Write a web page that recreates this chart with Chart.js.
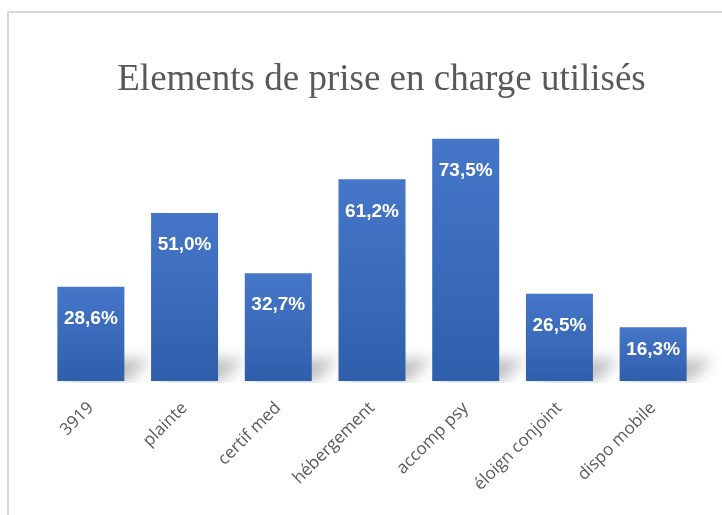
<!DOCTYPE html>
<html>
<head>
<meta charset="utf-8">
<script src="https://cdn.jsdelivr.net/npm/chart.js@4"></script>
<style>
  html, body { margin: 0; padding: 0; background: #fff; overflow: hidden; }
  body { width: 722px; height: 515px; position: relative; }
  #frame {
    position: absolute; left: 7px; top: 11px;
    width: 745px; height: 520px;
    border: 2px solid #d9d9d9;
  }
  #frame canvas { display: block; }
</style>
</head>
<body>
<div id="frame"><canvas id="myChart" width="745" height="520"></canvas></div>
<script>
// categories + values
const categories = ['3919', 'plainte', 'certif med', 'hébergement', 'accomp psy', 'éloign conjoint', 'dispo mobile']
const values = [28.6, 51.0, 32.7, 61.2, 73.5, 26.5, 16.3]
const valueLabels = ['28,6%', '51,0%', '32,7%', '61,2%', '73,5%', '26,5%', '16,3%']

const TOP_COLOR = '#4676c8'
const BOTTOM_COLOR = '#2f5fab'

// gradient per bar, from bar top to the baseline
const barGradient = (ctx) => {
  const chart = ctx.chart
  const area = chart.chartArea
  if (!area || ctx.dataIndex === undefined) return TOP_COLOR
  const y = chart.scales.y
  const top = y.getPixelForValue(values[ctx.dataIndex])
  const base = y.getPixelForValue(0)
  const g = chart.ctx.createLinearGradient(0, top, 0, base)
  g.addColorStop(0, TOP_COLOR)
  g.addColorStop(1, BOTTOM_COLOR)
  return g
}

// soft shadow behind the foot of each bar
const shadowPlugin = {
  id: 'barShadow',
  beforeDatasetsDraw(chart) {
    const ctx = chart.ctx
    const meta = chart.getDatasetMeta(0)
    meta.data.forEach(bar => {
      const half = bar.width / 2
      const left = bar.x - half
      const right = bar.x + half
      const base = bar.base
      ctx.save()
      ctx.beginPath()
      ctx.rect(left - 40, base - 80, bar.width + 100, 82)
      ctx.clip()
      ctx.filter = 'blur(7px)'
      ctx.fillStyle = 'rgba(0,0,0,0.25)'
      ctx.beginPath()
      ctx.moveTo(left + 4, base)
      ctx.lineTo(right + 4, base)
      ctx.lineTo(right + 26, base - 22)
      ctx.lineTo(left + 26, base - 22)
      ctx.closePath()
      ctx.fill()
      ctx.restore()
    })
  }
}

// white value labels inside the bars
const labelPlugin = {
  id: 'valueLabels',
  afterDatasetsDraw(chart) {
    const ctx = chart.ctx
    const meta = chart.getDatasetMeta(0)
    ctx.save()
    ctx.font = 'bold 19px "Liberation Sans", Arial, sans-serif'
    ctx.fillStyle = '#ffffff'
    ctx.textAlign = 'center'
    ctx.textBaseline = 'middle'
    meta.data.forEach((bar, i) => {
      const h = bar.base - bar.y
      const off = Math.min(32, h * 0.41)
      ctx.fillText(valueLabels[i], bar.x, bar.y + off)
    })
    ctx.restore()
  }
}

const chartData = {
  labels: categories,
  datasets: [{
    data: values,
    backgroundColor: barGradient,
    borderWidth: 0,
    categoryPercentage: 1,
    barPercentage: 0.715,
  }]
}

const config = {
  type: 'bar',
  data: chartData,
  options: {
    responsive: false,
    animation: false,
    layout: { padding: 0 },
    plugins: {
      legend: { display: false },
      tooltip: { enabled: false },
      title: {
        display: true,
        text: 'Elements de prise en charge utilisés',
        color: '#595959',
        font: { family: '"Liberation Serif", "Times New Roman", serif', size: 37, weight: 'normal' },
        padding: { top: 45, bottom: 15 },
      },
    },
    scales: {
      x: {
        grid: { display: false },
        border: { display: false },
        ticks: {
          color: '#595959',
          font: { family: '"Open Sans", sans-serif', size: 17 },
          minRotation: 45,
          maxRotation: 45,
          padding: 9,
          autoSkip: false,
        },
        afterFit: (scale) => { scale.height = 152 },
      },
      y: {
        min: 0,
        max: 80,
        grid: { display: false },
        border: { display: false },
        ticks: { display: false },
        afterFit: (scale) => { scale.width = 35 },
      },
      y2: {
        position: 'right',
        grid: { display: false },
        border: { display: false },
        ticks: { display: false },
        afterFit: (scale) => { scale.width = 54 },
      },
    },
  },
  plugins: [shadowPlugin, labelPlugin],
}

const myChart = new Chart(document.getElementById('myChart'), config)
</script>
</body>
</html>
